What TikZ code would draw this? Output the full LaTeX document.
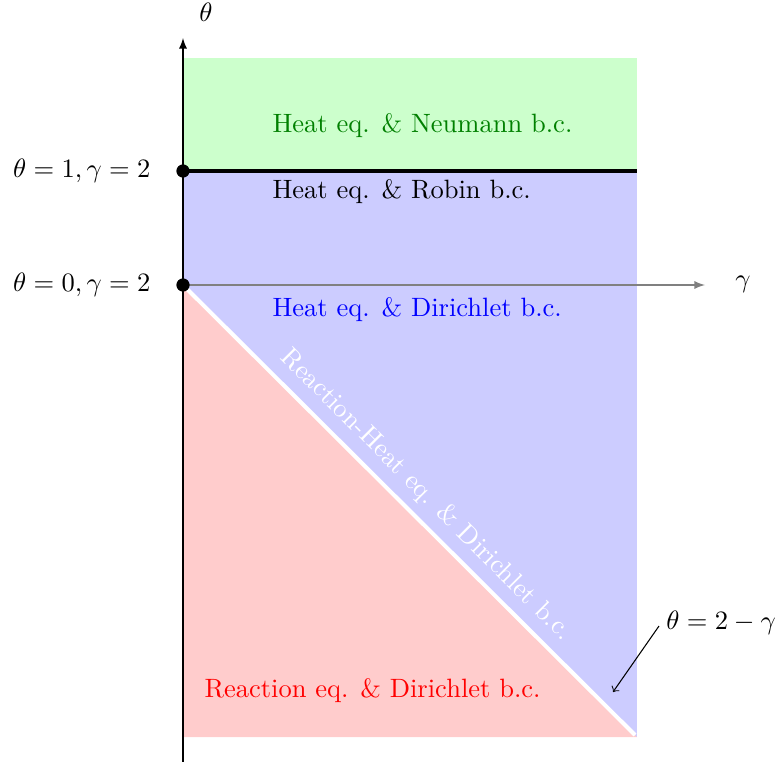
\documentclass[tikz,border=0pt]{standalone}
\usetikzlibrary{arrows}
\begin{document}
\begin{tikzpicture}[x=0.377pt,y=-0.377pt,
  dot/.style={circle,fill=black,inner sep=0pt,minimum size=5pt},
  lbl/.style={inner sep=0pt}]
\useasboundingbox (0,0) rectangle (778,762);
% regions
\fill[green!20] (183,58) rectangle (637,171);
\fill[blue!20] (183,171) rectangle (637,737);
\fill[red!20] (183,285) -- (183,737) -- (637,737) -- cycle;
\coordinate (o) at (183,285);
\coordinate (e) at (635,735);
\draw[white,line width=1.5pt] (o) -- (e);
% Robin line
\coordinate (r1) at (183,171);
\coordinate (r2) at (637,171);
\draw[line width=1.7pt] (r1) -- (r2);
% axes
\coordinate (ybot) at (183,762);
\coordinate (ytop) at (183,38);
\coordinate (xend) at (705,285);
\draw[-latex] (ybot) -- (ytop);
\draw[gray,-latex] (o) -- (xend);
\node[lbl] (theta) at (206,12) {$\theta$};
\node[lbl] (gamma) at (743,284) {$\gamma$};
% dots
\node[dot] (d1) at (r1) {};
\node[dot] (d0) at (o) {};
\node[lbl,anchor=east] (l1) at (151,171) {$\theta=1,\gamma=2$};
\node[lbl,anchor=east] (l0) at (151,285) {$\theta=0,\gamma=2$};
% region labels
\node[lbl,anchor=west,text=green!50!black] (neu) at (272,126) {Heat eq. \& Neumann b.c.};
\node[lbl,anchor=west] (rob) at (272,192) {Heat eq. \& Robin b.c.};
\node[lbl,anchor=west,text=blue] (dir) at (272,310) {Heat eq. \& Dirichlet b.c.};
\node[lbl,text=white,rotate=-45] (rh) at (426,495) {Reaction-Heat eq. \& Dirichlet b.c.};
\node[lbl,anchor=west,text=red] (rea) at (204,691) {Reaction eq. \& Dirichlet b.c.};
% annotation
\node[lbl] (eq) at (721,623) {$\theta=2-\gamma$};
\coordinate (tip) at (613,692);
\coordinate (s) at (659,626);
\draw[->] (s) -- (tip);
\end{tikzpicture}
\end{document}
